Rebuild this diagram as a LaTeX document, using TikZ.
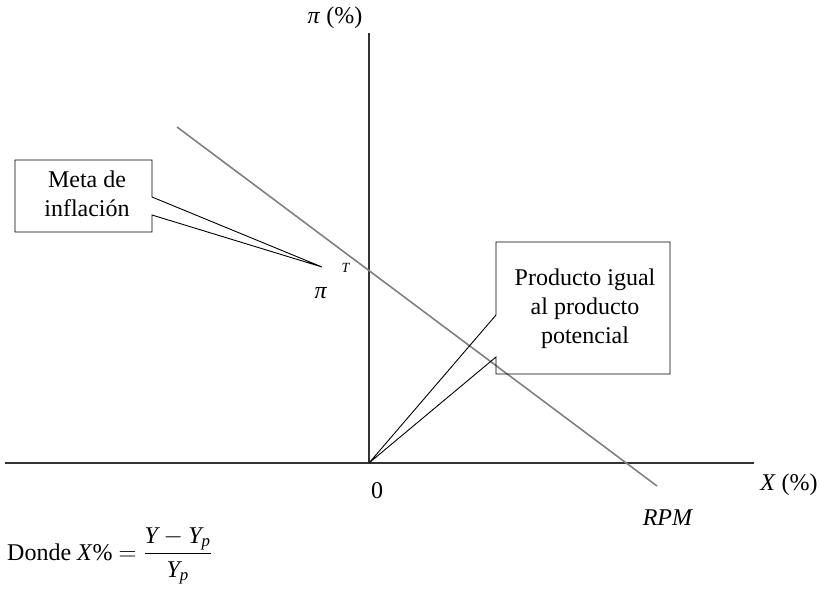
\documentclass[tikz,border=0pt]{standalone}
\usepackage{amsmath}
\usepackage{fontspec}
\setmainfont{Liberation Serif}
\usetikzlibrary{positioning}
\tikzset{
  axis-line/.style={line width=1.3pt,draw=black!80},
  rpm-line/.style={line width=1.6pt,draw=black!50},
  callout-box/.style={draw=black,line width=0.9pt,line join=miter},
  lbl/.style={inner sep=0pt,align=center,font=\fontsize{24}{29}\selectfont},
  lbl-small/.style={inner sep=0pt,font=\fontsize{14}{14}\selectfont},
}
\begin{document}
\begin{tikzpicture}[x=1pt,y=-1pt]
  \useasboundingbox (0,0) rectangle (827,591);
  % ejes
  \coordinate (orig) at (369,463);
  \coordinate (y-top) at (369,33);
  \coordinate (x-left) at (5,463);
  \coordinate (x-right) at (754,463);
  \draw[axis-line] (x-left) -- (x-right);
  \draw[axis-line] (orig) -- (y-top);
  % recta RPM
  \coordinate (rpm-a) at (177,127);
  \coordinate (rpm-b) at (657,486);
  \draw[rpm-line] (rpm-a) -- (rpm-b);
  % globos
  \coordinate (meta-tip) at (322,267);
  \draw[callout-box] (15,160) -- (152,160) -- (152,197) -- (meta-tip)
    -- (152,215) -- (152,232) -- (15,232) -- cycle;
  \draw[callout-box] (496,242) -- (670,242) -- (670,374) -- (496,374)
    -- (496,357) -- (orig) -- (496,315) -- cycle;
  % textos
  \node[lbl] (meta) at (87,194) {Meta de\\inflación};
  \node[lbl] (prod) at (585,309) {Producto igual\\al producto\\potencial};
  \node[lbl] (pit) at (321,293) {\textit{π}};
  \node[lbl-small] (pit-sup) at (346,268) {\textit{T}};
  \node[lbl] (ylab) at (335,18) {\textit{π} (\%)};
  \node[lbl] (xlab) at (789,485) {\textit{X} (\%)};
  \node[lbl] (zero) at (377,491) {0};
  \node[lbl] (rpm) at (668,518) {\textit{RPM}};
  \node[lbl,anchor=west] (donde) at (7,556)
    {Donde \textit{X}\% $=\dfrac{\textit{Y} - \textit{Y}_{\textit{p}}}{\textit{Y}_{\textit{p}}}$};
\end{tikzpicture}
\end{document}
